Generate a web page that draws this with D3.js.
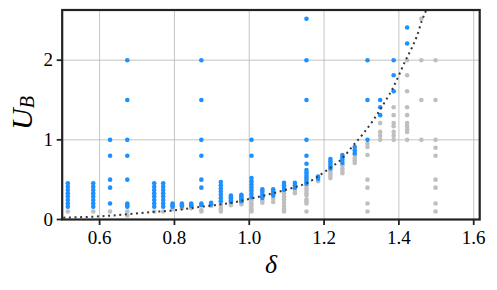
<!DOCTYPE html>
<html>
<head>
<meta charset="utf-8">
<script src="https://cdn.jsdelivr.net/npm/d3@7"></script>
<style>
  body { margin: 0; background: #fff; }
  svg { display: block; }
  text { font-family: "Liberation Serif", "DejaVu Serif", serif; fill: #000; }
</style>
</head>
<body>
<div id="chart"></div>
<script>
// columns of delta values (one per vertical stack of points)
const deltas = [0.515, 0.583, 0.628, 0.674, 0.746, 0.770, 0.795, 0.820, 0.845, 0.872,
  0.898, 0.924, 0.951, 0.979, 1.006, 1.035, 1.064, 1.093, 1.122, 1.153,
  1.184, 1.217, 1.249, 1.282, 1.316, 1.350, 1.386, 1.422, 1.460, 1.498]

// blue (accepted) U_B values per column
const blueU = [
  [0.16, 0.20, 0.245, 0.29, 0.33, 0.37, 0.41, 0.455],
  [0.16, 0.20, 0.245, 0.29, 0.33, 0.37, 0.41, 0.455],
  [1.0, 0.80, 0.50, 0.40, 0.20],
  [2.0, 1.5, 1.0, 0.80, 0.50, 0.20, 0.18, 0.16],
  [0.16, 0.20, 0.245, 0.29, 0.33, 0.37, 0.41, 0.455],
  [0.16, 0.20, 0.245, 0.29, 0.33, 0.37, 0.41, 0.455],
  [0.20, 0.18, 0.16],
  [0.20, 0.18, 0.17],
  [0.20, 0.18, 0.17],
  [2.0, 1.5, 1.0, 0.80, 0.50, 0.40, 0.20, 0.18],
  [0.21, 0.19],
  [0.47, 0.43, 0.39, 0.35, 0.31, 0.27, 0.23],
  [0.30, 0.28, 0.26, 0.24, 0.22],
  [0.31, 0.29, 0.27, 0.25, 0.23],
  [1.0, 0.80, 0.52, 0.48, 0.44, 0.40, 0.36, 0.32, 0.28],
  [0.38, 0.35, 0.32, 0.29, 0.27],
  [0.38, 0.35, 0.32, 0.30],
  [0.46, 0.43, 0.40, 0.37],
  [0.46, 0.43, 0.40],
  [2.52, 2.0, 1.5, 1.0, 0.80, 0.70, 0.62, 0.59, 0.56, 0.53, 0.50, 0.47, 0.45],
  [0.54, 0.51],
  [0.76, 0.73, 0.70, 0.67, 0.64],
  [0.81, 0.78, 0.75, 0.71],
  [0.91, 0.87, 0.83],
  [2.0, 1.5, 1.0],
  [1.5, 1.41, 1.31],
  [2.0, 1.81, 1.61],
  [2.41, 2.21],
  [],
  []
]

// grey (rejected) U_B values per column
const greyU = [
  [0.10], [0.10], [0.10], [0.10, 0.05], [0.10], [0.10], [0.13], [0.14], [0.14], [0.12, 0.10],
  [0.17],
  [0.19, 0.16, 0.13, 0.10],
  [0.20, 0.18],
  [0.21, 0.19],
  [0.24, 0.20, 0.17, 0.13, 0.10],
  [0.24, 0.21],
  [0.26, 0.22],
  [0.33, 0.29, 0.25, 0.21, 0.17, 0.13, 0.10],
  [0.36, 0.33],
  [0.42, 0.39, 0.36, 0.33, 0.30, 0.25, 0.23, 0.20, 0.10],
  [0.48],
  [0.61, 0.58, 0.55, 0.52],
  [0.68, 0.64, 0.61, 0.58],
  [0.81, 0.77, 0.74, 0.71],
  [0.95, 0.91, 0.81, 0.50, 0.40, 0.20, 0.10],
  [1.21, 1.10, 1.05, 1.0],
  [1.41, 1.31, 1.21, 1.17, 1.10, 1.05, 1.0],
  [2.0, 1.81, 1.61, 1.41, 1.31, 1.21, 1.17, 1.13, 1.10, 1.0],
  [2.52, 2.0, 1.5, 1.0],
  [2.0, 1.5, 1.0, 0.90, 0.80, 0.50, 0.40, 0.20, 0.10]
]

// dotted boundary curve
const curveDelta = [0.503, 0.628, 0.672, 0.752, 0.801, 0.855, 0.908, 0.953, 1.011, 1.064,
  1.118, 1.153, 1.202, 1.251, 1.278, 1.305, 1.332, 1.363, 1.385, 1.398, 1.416, 1.430, 1.448, 1.461, 1.472, 1.485]
const curveU = [0.023, 0.048, 0.065, 0.098, 0.115, 0.15, 0.18, 0.21, 0.27, 0.33,
  0.40, 0.455, 0.60, 0.78, 0.93, 1.08, 1.25, 1.48, 1.66, 1.79, 1.98, 2.11, 2.30, 2.49, 2.62, 2.80]

const xTicks = [0.6, 0.8, 1.0, 1.2, 1.4, 1.6]
const yTicks = [0, 1, 2]

const W = 497, H = 290
const margin = {top: 10, right: 17.3, bottom: 70.5, left: 62.2}

const svg = d3.select("#chart").append("svg")
    .attr("width", W)
    .attr("height", H)

const x = d3.scaleLinear().domain([0.5, 1.616]).range([margin.left, W - margin.right])
const y = d3.scaleLinear().domain([0, 2.63]).range([H - margin.bottom, margin.top])

svg.append("defs").append("clipPath").attr("id", "clip")
  .append("rect")
    .attr("x", margin.left).attr("y", margin.top)
    .attr("width", x.range()[1] - margin.left)
    .attr("height", y.range()[0] - margin.top)

// grid
svg.append("g").selectAll("line.vx")
  .data(xTicks).join("line")
    .attr("x1", d => x(d)).attr("x2", d => x(d))
    .attr("y1", y.range()[0]).attr("y2", y.range()[1])
    .attr("stroke", "#bdbdbd").attr("stroke-width", 0.9)
svg.append("g").selectAll("line.hy")
  .data(yTicks).join("line")
    .attr("y1", d => y(d)).attr("y2", d => y(d))
    .attr("x1", x.range()[0]).attr("x2", x.range()[1])
    .attr("stroke", "#bdbdbd").attr("stroke-width", 0.9)

// flatten columns into points
const pts = (cols, cls) => cols.flatMap((vals, i) => vals.map(v => ({d: deltas[i], u: v, cls: cls})))
const greyPts = pts(greyU, "grey")
const bluePts = pts(blueU, "blue")

const plot = svg.append("g").attr("clip-path", "url(#clip)")

plot.selectAll("circle.grey")
  .data(greyPts).join("circle")
    .attr("cx", d => x(d.d)).attr("cy", d => y(d.u)).attr("r", 2.3)
    .attr("fill", "#bfbfbf")

plot.selectAll("circle.blue")
  .data(bluePts).join("circle")
    .attr("cx", d => x(d.d)).attr("cy", d => y(d.u)).attr("r", 2.3)
    .attr("fill", "#1e90ff")

const line = d3.line()
    .x((d, i) => x(curveDelta[i]))
    .y((d, i) => y(curveU[i]))
    .curve(d3.curveMonotoneX)

plot.append("path")
    .datum(curveU)
    .attr("d", line)
    .attr("fill", "none")
    .attr("stroke", "#383838")
    .attr("stroke-width", 2)
    .attr("stroke-dasharray", "2,3.6")

// frame
svg.append("rect")
    .attr("x", margin.left).attr("y", margin.top)
    .attr("width", x.range()[1] - margin.left)
    .attr("height", y.range()[0] - margin.top)
    .attr("fill", "none").attr("stroke", "#222").attr("stroke-width", 2.2)

// x axis ticks and labels
const xa = svg.append("g")
xa.selectAll("line").data(xTicks).join("line")
    .attr("x1", d => x(d)).attr("x2", d => x(d))
    .attr("y1", y.range()[0]).attr("y2", y.range()[0] + 5.5)
    .attr("stroke", "#222").attr("stroke-width", 1.8)
xa.selectAll("text").data(xTicks).join("text")
    .attr("x", d => x(d)).attr("y", 244)
    .attr("text-anchor", "middle")
    .style("font-size", "19px")
    .text(d => d.toFixed(1))

const ya = svg.append("g")
ya.selectAll("line").data(yTicks).join("line")
    .attr("x1", margin.left - 5.5).attr("x2", margin.left)
    .attr("y1", d => y(d)).attr("y2", d => y(d))
    .attr("stroke", "#222").attr("stroke-width", 1.8)
ya.selectAll("text").data(yTicks).join("text")
    .attr("x", 53).attr("y", d => y(d) + 6.3)
    .attr("text-anchor", "end")
    .style("font-size", "19px")
    .text(d => d)

// axis labels
svg.append("text")
    .attr("x", 271).attr("y", 273)
    .attr("text-anchor", "middle")
    .style("font-size", "26px").style("font-style", "italic")
    .text("δ")

const yl = svg.append("text")
    .attr("transform", "translate(31.5,113) rotate(-90)")
    .attr("text-anchor", "middle")
    .style("font-style", "italic")
yl.append("tspan").style("font-size", "30px").text("U")
yl.append("tspan").style("font-size", "20px").attr("dy", 2).text("B")
</script>
</body>
</html>
